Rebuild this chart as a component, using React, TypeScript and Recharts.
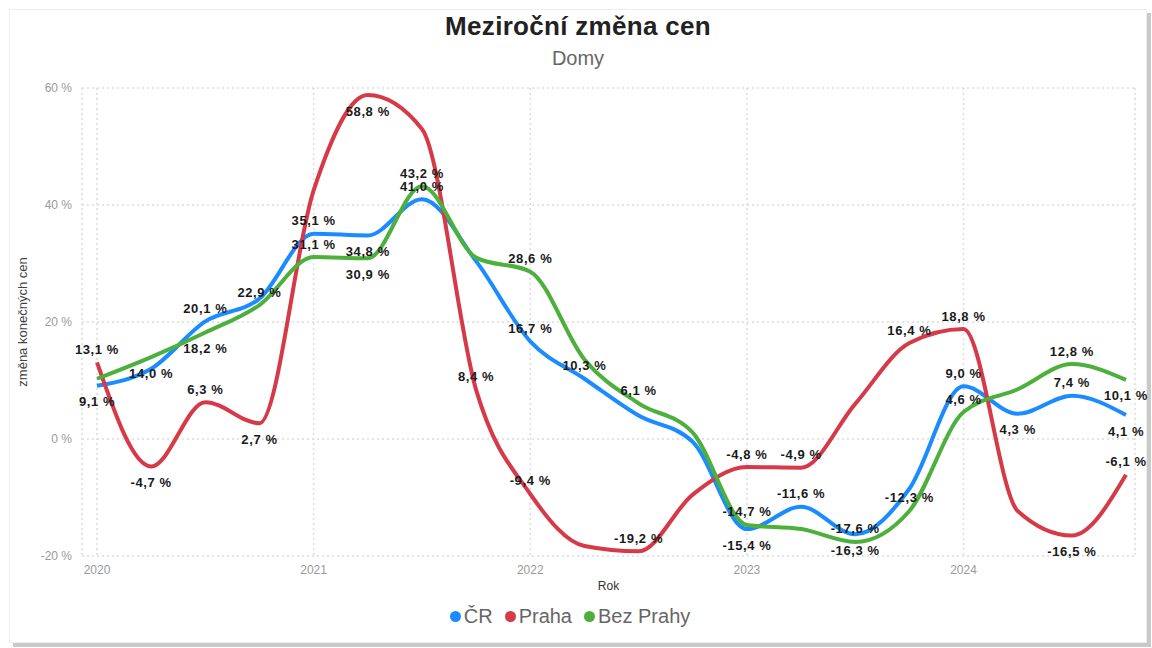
import React from 'react';
import { LineChart, Line, XAxis, YAxis, CartesianGrid } from 'recharts';

const quarters = [
  2020, 2020.25, 2020.5, 2020.75,
  2021, 2021.25, 2021.5, 2021.75,
  2022, 2022.25, 2022.5, 2022.75,
  2023, 2023.25, 2023.5, 2023.75,
  2024, 2024.25, 2024.5, 2024.75,
];

const cr = [9.1, 12.0, 20.1, 24.0, 35.1, 34.8, 41.0, 30.4, 16.7, 10.3, 4.0, -0.5, -15.4, -11.6, -16.3, -8.5, 9.0, 4.3, 7.4, 4.1];
const praha = [13.1, -4.7, 6.3, 2.7, 42.5, 58.8, 53.0, 8.4, -9.4, -18.3, -19.2, -9.5, -4.8, -4.9, 6.0, 16.4, 18.8, -12.3, -16.5, -6.1];
const bezPrahy = [10.3, 14.0, 18.2, 22.9, 31.1, 30.9, 43.2, 31.0, 28.6, 13.6, 6.1, 1.1, -14.7, -15.4, -17.6, -12.3, 4.6, 8.5, 12.8, 10.1];

const yearTicks = [2020, 2021, 2022, 2023, 2024];
const valueTicks = [-20, 0, 20, 40, 60];

// which points carry a data label, and whether it sits above (a) or below (b)
type Pos = 'a' | 'b' | null;
const crLabels: Pos[] = ['b', null, 'a', null, 'a', 'b', 'a', null, 'a', 'a', null, null, 'b', 'a', 'b', null, 'a', 'b', 'a', 'b'];
const prahaLabels: Pos[] = ['a', 'b', 'a', 'b', null, 'b', null, 'a', 'a', null, 'a', null, 'a', 'a', null, 'a', 'a', null, 'b', 'a'];
const bezLabels: Pos[] = [null, 'b', 'b', 'a', 'a', 'b', 'a', null, 'a', null, 'a', null, 'a', null, 'a', 'a', 'a', null, 'a', 'b'];

const data = quarters.map((q, i) => ({ q, cr: cr[i], praha: praha[i], bez: bezPrahy[i] }));

const FONT = '"Liberation Sans", Arial, sans-serif';
const BLUE = '#1A8CFF';
const RED = '#D63A48';
const GREEN = '#4DB03C';

const fmt = (v: number) => v.toFixed(1).replace('.', ',') + ' %';

function makeLabel(pos: Pos[]) {
  return (props: any) => {
    const { x, y, value, index } = props;
    const p = pos[index];
    if (!p || value == null) return null;
    const dy = p === 'a' ? -13 : 16;
    return (
      <text
        x={x}
        y={y + dy}
        textAnchor="middle"
        dominantBaseline="central"
        fontSize={13}
        fontWeight="bold"
        letterSpacing={0.6}
        fill="#1a1a1a"
        fontFamily={FONT}
      >
        {fmt(value)}
      </text>
    );
  };
}

const legendItems = [
  { name: 'ČR', color: BLUE },
  { name: 'Praha', color: RED },
  { name: 'Bez Prahy', color: GREEN },
];

export default function App() {
  return (
    <div style={{ position: 'absolute', left: 0, top: 0, width: 1152, height: 648, background: '#fff', fontFamily: FONT }}>
      <div
        style={{
          position: 'absolute',
          left: 9,
          top: 9,
          width: 1136,
          height: 632,
          border: '1px solid #eeeeee',
          boxShadow: '4px 4px 0 #c9c9c9',
          background: '#fff',
        }}
      />
      <div style={{ position: 'absolute', left: 9, width: 1138, top: 11, textAlign: 'center', fontSize: 26, fontWeight: 'bold', color: '#222', letterSpacing: 0.3 }}>
        Meziroční změna cen
      </div>
      <div style={{ position: 'absolute', left: 9, width: 1138, top: 47, textAlign: 'center', fontSize: 20, color: '#666' }}>
        Domy
      </div>
      <div style={{ position: 'absolute', left: 0, top: 0 }}>
        <LineChart width={1152} height={648} data={data} margin={{ top: 88, right: 17, bottom: 0, left: 0 }}>
          <CartesianGrid stroke="#dcdcdc" strokeDasharray="2 3" strokeWidth={1.5} />
          <XAxis
            dataKey="q"
            type="number"
            domain={[2020, 2024.75]}
            ticks={yearTicks}
            padding={{ left: 15, right: 9 }}
            height={92}
            tickLine={false}
            axisLine={false}
            tickSize={0}
            tickMargin={9}
            tick={{ fill: '#9a9a9a', fontSize: 12, fontFamily: FONT }}
            label={{ value: 'Rok', position: 'insideTop', offset: 25, style: { fill: '#333', fontSize: 12, fontFamily: FONT } }}
          />
          <YAxis
            domain={[-20, 60]}
            ticks={valueTicks}
            width={82}
            tickLine={false}
            axisLine={false}
            tickSize={0}
            tickMargin={10}
            tickFormatter={(v: number) => `${v} %`}
            tick={{ fill: '#9a9a9a', fontSize: 12, fontFamily: FONT }}
            label={{
              content: () => (
                <text
                  x={22}
                  y={322}
                  transform="rotate(-90, 22, 322)"
                  textAnchor="middle"
                  dominantBaseline="central"
                  fontSize={13}
                  fill="#444"
                  fontFamily={FONT}
                >
                  změna konečných cen
                </text>
              ),
            }}
          />
          <Line type="monotone" dataKey="cr" stroke={BLUE} strokeWidth={4} dot={false} isAnimationActive={false} label={makeLabel(crLabels)} />
          <Line type="monotone" dataKey="praha" stroke={RED} strokeWidth={4} dot={false} isAnimationActive={false} label={makeLabel(prahaLabels)} />
          <Line type="monotone" dataKey="bez" stroke={GREEN} strokeWidth={4} dot={false} isAnimationActive={false} label={makeLabel(bezLabels)} />
        </LineChart>
      </div>
      <div style={{ position: 'absolute', left: 0, width: 1152, top: 605, display: 'flex', justifyContent: 'center', boxSizing: 'border-box' }}>
        {legendItems.map((it) => (
          <div key={it.name} style={{ display: 'flex', alignItems: 'center', marginRight: 12, fontSize: 20, color: '#666' }}>
            <span style={{ width: 11, height: 11, borderRadius: '50%', background: it.color, display: 'inline-block', marginRight: 3 }} />
            {it.name}
          </div>
        ))}
      </div>
    </div>
  );
}
